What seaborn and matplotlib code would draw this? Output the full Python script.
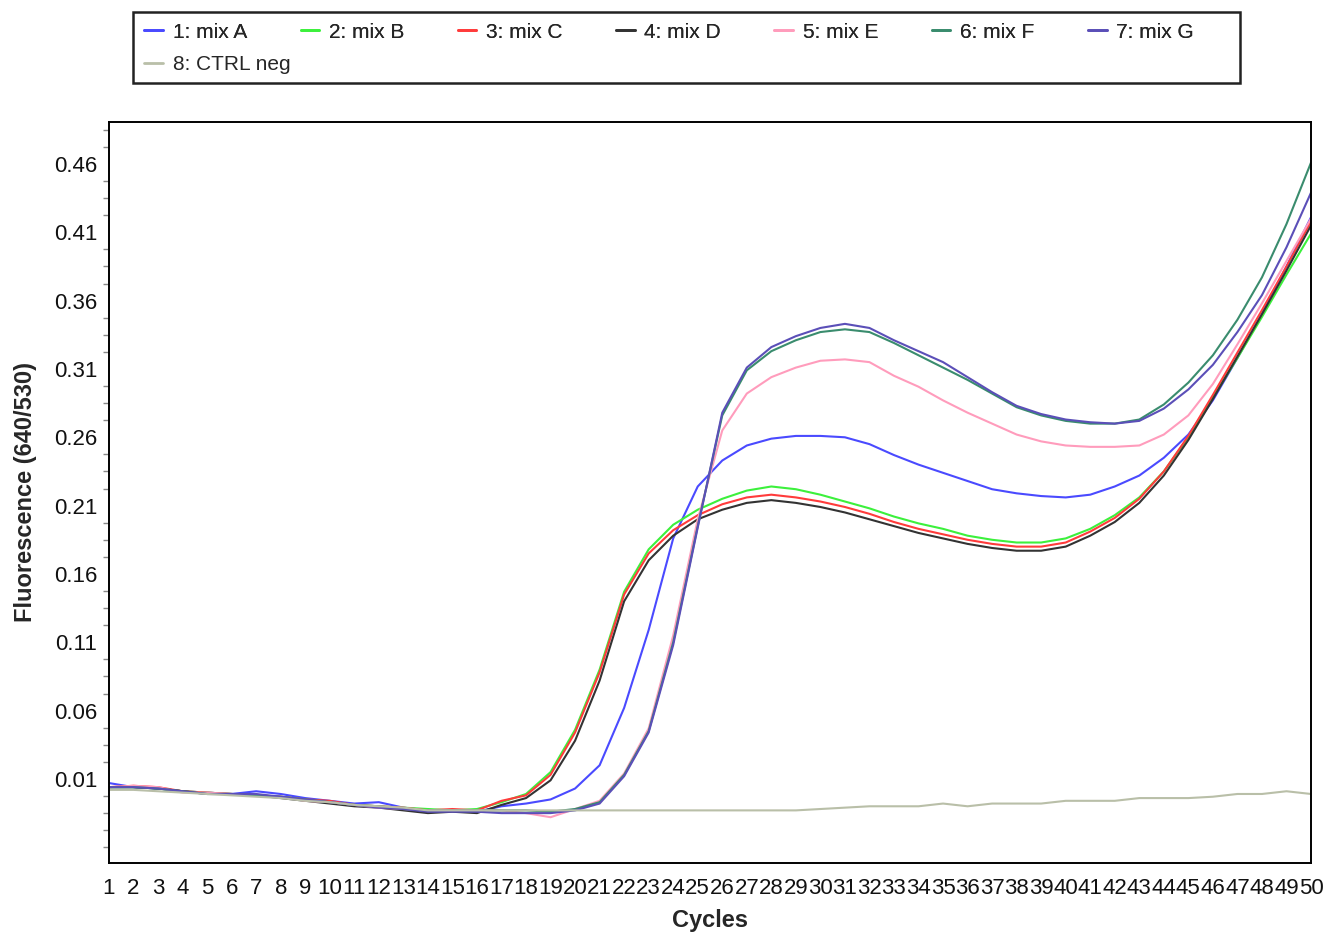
"""
qPCR amplification curves, mixes A-G plus negative control.
"""

import matplotlib
matplotlib.use("Agg")
import matplotlib.pyplot as plt
import matplotlib.font_manager as fm
from matplotlib.patches import Rectangle
from matplotlib.ticker import AutoMinorLocator, FormatStrFormatter
import pandas as pd
import seaborn as sns

# data
cycles = list(range(1, 51))

mix_a = [0.007, 0.004, 0.003, 0.001, 0.000, -0.001, 0.001, -0.001, -0.004, -0.006,
         -0.008, -0.007, -0.011, -0.013, -0.013, -0.014, -0.010, -0.008, -0.005, 0.003,
         0.020, 0.062, 0.119, 0.186, 0.224, 0.243, 0.254, 0.259, 0.261, 0.261,
         0.260, 0.255, 0.247, 0.240, 0.234, 0.228, 0.222, 0.219, 0.217, 0.216,
         0.218, 0.224, 0.232, 0.245, 0.262, 0.287, 0.318, 0.350, 0.385, 0.421]
mix_b = [0.004, 0.004, 0.003, 0.001, 0.000, -0.001, -0.002, -0.003, -0.005, -0.007,
         -0.009, -0.010, -0.011, -0.012, -0.013, -0.012, -0.007, -0.001, 0.015, 0.046,
         0.090, 0.147, 0.178, 0.196, 0.207, 0.215, 0.221, 0.224, 0.222, 0.218,
         0.213, 0.208, 0.202, 0.197, 0.193, 0.188, 0.185, 0.183, 0.183, 0.186,
         0.193, 0.203, 0.216, 0.235, 0.260, 0.289, 0.318, 0.348, 0.379, 0.409]
mix_c = [0.004, 0.005, 0.004, 0.001, 0.000, -0.001, -0.002, -0.003, -0.005, -0.006,
         -0.009, -0.010, -0.011, -0.013, -0.012, -0.013, -0.006, -0.002, 0.013, 0.044,
         0.088, 0.145, 0.175, 0.192, 0.203, 0.211, 0.216, 0.218, 0.216, 0.213,
         0.209, 0.204, 0.198, 0.193, 0.189, 0.185, 0.182, 0.180, 0.180, 0.183,
         0.191, 0.201, 0.215, 0.235, 0.261, 0.291, 0.322, 0.353, 0.385, 0.418]
mix_d = [0.004, 0.004, 0.003, 0.001, -0.001, -0.001, -0.002, -0.004, -0.006, -0.008,
         -0.010, -0.011, -0.013, -0.015, -0.014, -0.015, -0.009, -0.004, 0.009, 0.038,
         0.082, 0.140, 0.170, 0.188, 0.200, 0.207, 0.212, 0.214, 0.212, 0.209,
         0.205, 0.200, 0.195, 0.190, 0.186, 0.182, 0.179, 0.177, 0.177, 0.180,
         0.188, 0.198, 0.212, 0.232, 0.258, 0.288, 0.319, 0.350, 0.382, 0.415]
mix_e = [0.004, 0.005, 0.004, 0.000, 0.000, -0.001, -0.002, -0.003, -0.006, -0.007,
         -0.009, -0.011, -0.012, -0.013, -0.013, -0.013, -0.013, -0.015, -0.018, -0.012,
         -0.006, 0.014, 0.047, 0.115, 0.200, 0.265, 0.292, 0.304, 0.311, 0.316,
         0.317, 0.315, 0.305, 0.297, 0.287, 0.278, 0.270, 0.262, 0.257, 0.254,
         0.253, 0.253, 0.254, 0.262, 0.276, 0.299, 0.328, 0.358, 0.389, 0.420]
mix_f = [0.004, 0.004, 0.003, 0.001, -0.001, -0.001, -0.002, -0.003, -0.005, -0.007,
         -0.009, -0.010, -0.012, -0.013, -0.013, -0.013, -0.013, -0.013, -0.014, -0.012,
         -0.007, 0.013, 0.045, 0.110, 0.195, 0.276, 0.309, 0.323, 0.331, 0.337,
         0.339, 0.337, 0.329, 0.320, 0.311, 0.302, 0.292, 0.282, 0.276, 0.272,
         0.270, 0.270, 0.273, 0.284, 0.300, 0.320, 0.346, 0.377, 0.416, 0.461]
mix_g = [0.004, 0.004, 0.003, 0.001, -0.001, -0.001, -0.001, -0.003, -0.005, -0.007,
         -0.009, -0.011, -0.012, -0.014, -0.014, -0.014, -0.015, -0.015, -0.015, -0.013,
         -0.008, 0.012, 0.044, 0.108, 0.194, 0.278, 0.311, 0.326, 0.334, 0.340,
         0.343, 0.340, 0.331, 0.323, 0.315, 0.304, 0.293, 0.283, 0.277, 0.273,
         0.271, 0.270, 0.272, 0.281, 0.295, 0.313, 0.337, 0.364, 0.399, 0.439]
ctrl_neg = [0.002, 0.002, 0.001, 0.000, -0.001, -0.002, -0.003, -0.004, -0.006, -0.007,
            -0.009, -0.010, -0.011, -0.013, -0.013, -0.013, -0.013, -0.013, -0.013, -0.013,
            -0.013, -0.013, -0.013, -0.013, -0.013, -0.013, -0.013, -0.013, -0.013, -0.012,
            -0.011, -0.010, -0.010, -0.010, -0.008, -0.010, -0.008, -0.008, -0.008, -0.006,
            -0.006, -0.006, -0.004, -0.004, -0.004, -0.003, -0.001, -0.001, 0.001, -0.001]

labels = ["1: mix A", "2: mix B", "3: mix C", "4: mix D",
          "5: mix E", "6: mix F", "7: mix G", "8: CTRL neg"]
colors = ["#4a4aff", "#3cf03c", "#ff3b3b", "#333333",
          "#ff9cbc", "#3a8c6e", "#5b4fb8", "#b9bfa8"]

y_ticks = [0.01, 0.06, 0.11, 0.16, 0.21, 0.26, 0.31, 0.36, 0.41, 0.46]

series = [mix_a, mix_b, mix_c, mix_d, mix_e, mix_f, mix_g, ctrl_neg]
df = pd.concat(
    [pd.DataFrame({"Cycles": cycles, "Fluorescence": vals, "Sample": lab})
     for lab, vals in zip(labels, series)],
    ignore_index=True)

# fonts
sns.set_style("white")
names = {f.name for f in fm.fontManager.ttflist}
if "Liberation Sans Narrow" in names:
    text_font = ["Liberation Sans Narrow", "DejaVu Sans"]
    tick_size, legend_size, xlabel_size = 19, 18, 20
else:
    text_font = ["Liberation Sans", "DejaVu Sans"]
    tick_size, legend_size, xlabel_size = 16, 15, 17
plt.rcParams["font.family"] = text_font

W, H = 1338, 939
fig = plt.figure(figsize=(W / 100, H / 100), dpi=100)
ax = fig.add_axes([109 / W, 1 - 863 / H, 1202 / W, 741 / H])

sns.lineplot(data=df, x="Cycles", y="Fluorescence", hue="Sample",
             hue_order=labels, palette=dict(zip(labels, colors)),
             linewidth=1.5, ax=ax, legend=True)

handles, leg_labels = ax.get_legend_handles_labels()
ax.get_legend().remove()

ax.set_xlim(1, 50)
ax.set_ylim(-0.0515, 0.4907)
ax.set_xticks(cycles)
ax.set_yticks(y_ticks)
ax.yaxis.set_major_formatter(FormatStrFormatter("%.2f"))
ax.yaxis.set_minor_locator(AutoMinorLocator(4))

ax.tick_params(axis="both", which="major", direction="out", length=7, width=1,
               color="#666666", labelsize=tick_size, labelcolor="#111111")
ax.tick_params(axis="y", which="major", pad=1.5)
ax.tick_params(axis="x", which="major", pad=4)
ax.tick_params(axis="y", which="minor", direction="out", length=4, width=1,
               color="#888888", left=True)

for sp in ax.spines.values():
    sp.set_color("black")
    sp.set_linewidth(1.4)

ax.set_xlabel("Cycles", fontsize=xlabel_size, fontweight="bold")
ax.set_ylabel("Fluorescence (640/530)", fontsize=17, fontweight="bold",
              family=["Liberation Sans", "DejaVu Sans"])
ax.xaxis.set_label_coords(0.5, -0.062)
ax.yaxis.set_label_coords(-0.06, 0.5)

for h in handles:
    h.set_linewidth(2.0)

# legend: a grid of 7 columns, CTRL neg alone on the second row
leg_kw = dict(frameon=False, borderaxespad=0, borderpad=0.55, handlelength=0.9,
              handletextpad=0.45, fontsize=legend_size)
leg1 = fig.legend(handles[:7], leg_labels[:7], ncol=7, loc="center left",
                  bbox_to_anchor=(133 / W, 1 - 32 / H, (1205 - 133) / W, 0),
                  mode="expand", columnspacing=1.0, **leg_kw)
leg2 = fig.legend(handles[7:], leg_labels[7:], ncol=1, loc="center left",
                  bbox_to_anchor=(133 / W, 1 - 65 / H), **leg_kw)
fig.add_artist(leg1)
fig.add_artist(Rectangle((133 / W, 1 - 83 / H), 1107 / W, 71 / H,
                         transform=fig.transFigure, fill=False,
                         edgecolor="#222222", linewidth=1.8))

fig.savefig("out.png", dpi=100)
plt.close(fig)
